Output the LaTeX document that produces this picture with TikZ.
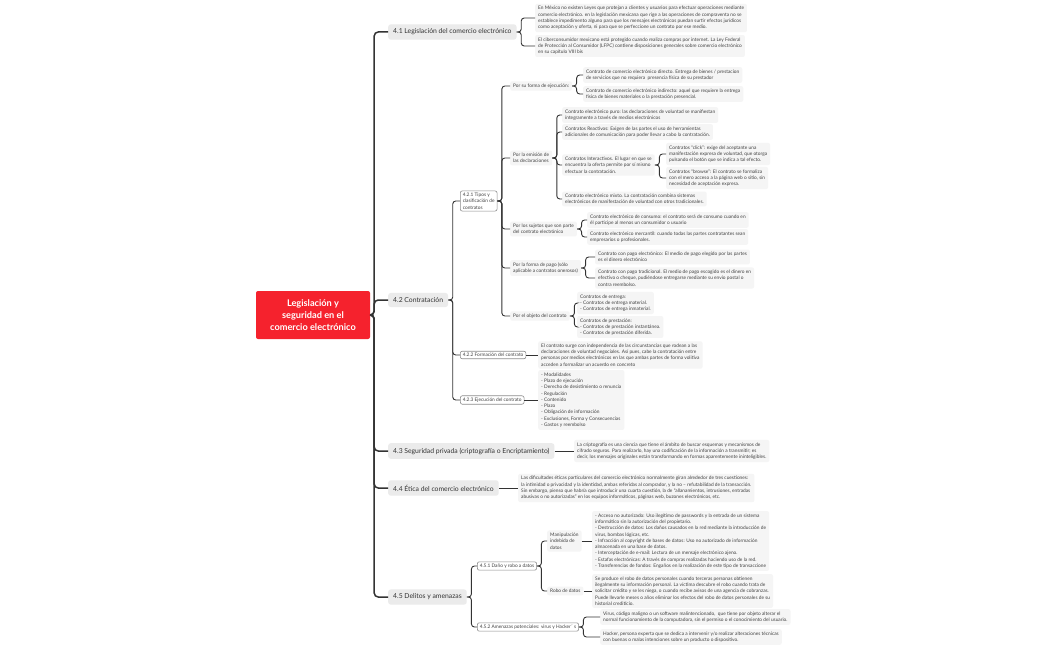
\documentclass[tikz,border=0pt]{standalone}
\usepackage{fontspec}
\setmainfont{Lato}
\definecolor{rootred}{RGB}{245,34,45}
\definecolor{lineC}{RGB}{51,51,51}
\definecolor{lonefill}{RGB}{235,235,235}
\definecolor{txfill}{RGB}{245,245,245}
\definecolor{txcol}{RGB}{65,65,65}
\definecolor{ltwodraw}{RGB}{140,140,140}
\newcommand\mmsmall{\fontsize{4.8}{6.3}\selectfont}
\tikzset{
 root/.style={fill=rootred, text=white, rounded corners=2pt, font=\bfseries\fontsize{9.2}{12}\selectfont, align=center, minimum width=114pt, minimum height=48pt, inner sep=2pt},
 lone/.style={fill=lonefill, rounded corners=2.5pt, text=lineC, font=\fontsize{6.8}{8}\selectfont, inner xsep=5pt, inner ysep=4.5pt, anchor=west},
 ltwo/.style={draw=ltwodraw, line width=0.6pt, fill=white, rounded corners=2pt, text=txcol, font=\mmsmall, align=left, inner xsep=2.5pt, inner ysep=2pt, anchor=west},
 tx/.style={fill=txfill, rounded corners=2pt, text=txcol, font=\mmsmall, align=left, inner xsep=3pt, inner ysep=2.5pt, anchor=west},
 conn/.style={draw=lineC, line width=0.9pt, rounded corners=3pt},
 trunk/.style={draw=lineC, line width=1.5pt, rounded corners=4pt},
}
\begin{document}
\begin{tikzpicture}[x=1pt,y=-1pt]
\fill[white] (0,0) rectangle (1050,650);
\useasboundingbox (0,0) rectangle (1050,650);

% root
\node[root] (root) at (313,315) {Legislación y\\seguridad en el\\comercio electrónico};

% level 1
\node[lone] (n41) at (388,32) {4.1 Legislación del comercio electrónico};
\node[lone] (n42) at (388,300) {4.2 Contratación};
\node[lone] (n43) at (388,451) {4.3 Seguridad privada (criptografía o Encriptamiento)};
\node[lone] (n44) at (388,488) {4.4 Ética del comercio electrónico};
\node[lone] (n45) at (388,597) {4.5 Delitos y amenazas};

% 4.1
\node[tx] (t411) at (535,18) {En México no existen Leyes que protejan a clientes y usuarios para efectuar operaciones mediante\\comercio electrónico. en la legislación mexicana que rige a las operaciones de compraventa no se\\establece impedimento alguno para que los mensajes electrónicos puedan surtir efectos jurídicos\\como aceptación y oferta, ni para que se perfeccione un contrato por ese medio.};
\node[tx] (t412) at (535,46) {El ciberconsumidor mexicano está protegido cuando realiza compras por internet. La Ley Federal\\de Protección al Consumidor (LFPC) contiene disposiciones generales sobre comercio electrónico\\en su capítulo VIII bis};

% 4.2
\node[ltwo] (n421) at (460,201) {4.2.1 Tipos y\\clasificación de\\contratos};
\node[ltwo] (n422) at (460,355) {4.2.2 Formación del contrato};
\node[ltwo] (n423) at (460,400) {4.2.3 Ejecución del contrato};

\node[tx] (c1) at (510,86) {Por su forma de ejecución:};
\node[tx] (c2) at (510,158) {Por la emisión de\\las declaraciones};
\node[tx] (c3) at (510,229) {Por los sujetos que son parte\\del contrato electrónico};
\node[tx] (c4) at (510,268) {Por la forma de pago (sólo\\aplicable a contratos onerosos)};
\node[tx] (c5) at (510,316) {Por el objeto del contrato};

\node[tx] (c11) at (583,75) {Contrato de comercio electrónico directo. Entrega de bienes / prestacion\\de servicios que no requiera \ presencia física de su prestador};
\node[tx] (c12) at (583,94) {Contrato de comercio electrónico indirecto: aquel que requiere la entrega\\física de bienes materiales o la prestación presencial.};

\node[tx] (c21) at (562,115) {Contrato electrónico puro: las declaraciones de voluntad se manifiestan\\íntegramente a través de medios electrónicos};
\node[tx] (c22) at (562,132) {Contratos Reactivos: Exigen de las partes el uso de herramientas\\adicionales de comunicación para poder llevar a cabo la contratación.};
\node[tx] (c23) at (562,165) {Contratos Interactivos. El lugar en que se\\encuentra la oferta permite por sí mismo\\efectuar la contratación.};
\node[tx] (c24) at (562,199) {Contrato electrónico mixto. La contratación combina sistemas\\electrónicos de manifestación de voluntad con otros tradicionales.};

\node[tx] (c231) at (666,154) {Contratos “click”: exige del aceptante una\\manifestación expresa de voluntad, que otorga\\pulsando el botón que se indica a tal efecto.};
\node[tx] (c232) at (666,178) {Contratos “browse”: El contrato se formaliza\\con el mero acceso a la página web o sitio, sin\\necesidad de aceptación expresa.};

\node[tx] (c31) at (587,220) {Contrato electrónico de consumo: el contrato será de consumo cuando en\\él participe al menos un consumidor o usuario};
\node[tx] (c32) at (587,237) {Contrato electrónico mercantil: cuando todas las partes contratantes sean\\empresarios o profesionales.};

\node[tx] (c41) at (595,257) {Contrato con pago electrónico: El medio de pago elegido por las partes\\es el dinero electrónico};
\node[tx] (c42) at (595,278) {Contrato con pago tradicional. El medio de pago escogido es el dinero en\\efectivo o cheque, pudiéndose entregarse mediante su envío postal o\\contra reembolso.};

\node[tx] (c51) at (577,303) {Contratos de entrega:\\- Contratos de entrega material.\\- Contratos de entrega inmaterial.};
\node[tx] (c52) at (577,327) {Contratos de prestación:\\- Contratos de prestación instantánea.\\- Contratos de prestación diferida.};

\node[tx] (t422) at (538,355) {El contrato surge con independencia de las circunstancias que rodean a las\\declaraciones de voluntad negociales. Así pues, cabe la contratación entre\\personas por medios electrónicos en las que ambas partes de forma volitiva\\acceden a formalizar un acuerdo en concreto};
\node[tx] (t423) at (538,400) {- Modalidades\\- Plazo de ejecución\\- Derecho de desistimiento o renuncia\\- Regulación\\- Contenido\\- Plazo\\- Obligación de información\\- Exclusiones, Forma y Consecuencias\\- Gastos y reembolso};

% 4.3, 4.4
\node[tx] (t43) at (574,451) {La criptografía es una ciencia que tiene el ámbito de buscar esquemas y mecanismos de\\cifrado seguros. Para realizarlo, hay una codificación de la información a transmitir; es\\decir, los mensajes originales están transformando en formas aparentemente ininteligibles.};
\node[tx] (t44) at (518,488) {Las dificultades éticas particulares del comercio electrónico normalmente giran alrededor de tres cuestiones:\\la intimidad o privacidad y la identidad, ambas referidas al comprador, y la no – refutabilidad de la transacción.\\Sin embargo, pienso que habría que introducir una cuarta cuestión, la de “allanamientos, intrusiones, entradas\\abusivas o no autorizadas” en los equipos informáticos, páginas web, buzones electrónicos, etc.};

% 4.5
\node[ltwo] (n451) at (477,566) {4.5.1 Daño y robo a datos};
\node[ltwo] (n452) at (477,627) {4.5.2 Amenazas potenciales: virus y Hacker´ s};
\node[tx] (m1) at (547,541) {Manipulación\\indebida de\\datos};
\node[tx] (m2) at (547,591) {Robo de datos};
\node[tx] (m1t) at (592,541) {- Acceso no autorizado: Uso ilegítimo de passwords y la entrada de un sistema\\informático sin la autorización del propietario.\\- Destrucción de datos: Los daños causados en la red mediante la introducción de\\virus, bombas lógicas, etc.\\- Infracción al copyright de bases de datos: Uso no autorizado de información\\almacenada en una base de datos.\\- Interceptación de e-mail: Lectura de un mensaje electrónico ajeno.\\- Estafas electrónicas: A través de compras realizadas haciendo uso de la red.\\- Transferencias de fondos: Engaños en la realización de este tipo de transaccione};
\node[tx] (m2t) at (592,591) {Se produce el robo de datos personales cuando terceras personas obtienen\\ilegalmente su información personal. La víctima descubre el robo cuando trata de\\solicitar crédito y se les niega, o cuando recibe avisos de una agencia de cobranzas.\\Puede llevarle meses o años eliminar los efectos del robo de datos personales de su\\historial crediticio.};
\node[tx] (v1) at (600,617) {Virus, código maligno o un software malintencionado, \ que tiene por objeto alterar el\\normal funcionamiento de la computadora, sin el permiso o el conocimiento del usuario.};
\node[tx] (v2) at (600,637) {Hacker, persona experta que se dedica a intervenir y/o realizar alteraciones técnicas\\con buenas o malas intenciones sobre un producto o dispositivo.};

% trunk
\foreach \n in {n41,n42,n43,n44,n45}
  \draw[trunk] (root.east) -- ++(4,0) |- (\n.west);

% branching connectors
\foreach \p/\c in {n41/t411, n41/t412,
  n42/n421, n42/n422, n42/n423,
  n421/c1, n421/c2, n421/c3, n421/c4, n421/c5,
  c1/c11, c1/c12,
  c2/c21, c2/c22, c2/c23, c2/c24,
  c23/c231, c23/c232,
  c3/c31, c3/c32,
  c4/c41, c4/c42,
  c5/c51, c5/c52,
  n45/n451, n45/n452,
  n451/m1, n451/m2,
  n452/v1, n452/v2}
  \draw[conn] (\p.east) -- ++(4.5,0) |- (\c.west);

% single-child connectors
\foreach \p/\c in {n422/t422, n423/t423, n43/t43, n44/t44, m1/m1t, m2/m2t}
  \draw[conn] (\p.east) -- (\p.east -| \c.west);
\end{tikzpicture}
\end{document}
